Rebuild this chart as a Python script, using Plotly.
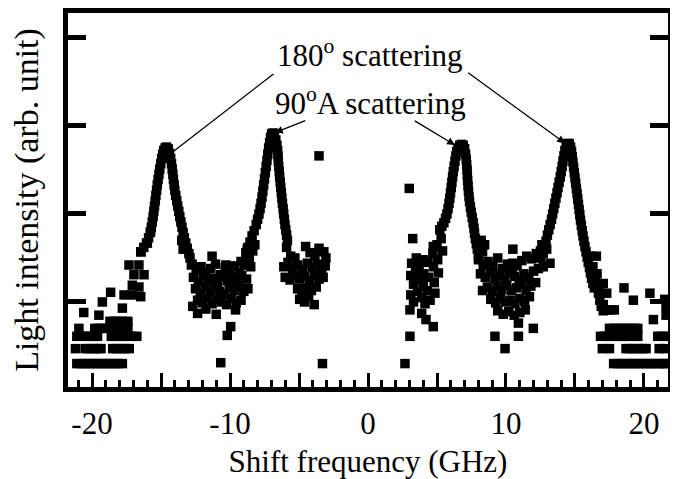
import plotly.graph_objects as go

# outer left tail: quantised low-count rows plus scattered points
tail_l_x = [-21.1, -20.8, -20.5, -20.2, -19.9, -19.6, -19.3, -19.0, -18.7, -18.4, -18.1, -17.8,
            -21.2, -20.5, -20.2, -19.9, -19.6, -19.35, -18.5, -18.2, -17.9, -17.6, -17.3,
            -21.1, -20.8, -20.5, -20.2, -19.9, -19.6, -18.6, -18.3, -18.0, -17.7, -17.4, -17.1, -16.75,
            -20.95, -19.8, -19.5, -19.2, -18.9, -18.6, -18.3, -18.0, -17.7, -17.4,
            -18.7, -18.4, -18.1, -17.8, -17.4,
            -20.6, -19.5, -17.8, -19.25, -18.65, -17.68, -17.08, -16.47, -17.08, -16.6,
            -16.96, -16.23, -17.32, -16.6, -16.47, -15.99, -15.75]
tail_l_y = [30] * 12 + [47] * 11 + [61] * 13 + [70] * 10 + [78] * 5 + \
           [88, 85, 93, 100, 111, 108, 108, 106, 119, 117,
            131, 131, 142, 142, 157, 167, 180]

# 180 deg peak, anti-Stokes side
peak1_x = [-16.45, -16.25, -16.05, -15.9, -15.78, -15.7, -15.63, -15.57, -15.52, -15.47, -15.42, -15.37,
           -15.32, -15.27, -15.21, -15.15, -15.09, -15.02, -14.95, -14.88, -14.8, -14.7, -14.6,
           -14.48, -14.38, -14.3, -14.24, -14.19, -14.14, -14.1, -14.05, -14.0, -13.93, -13.86, -13.79,
           -13.71, -13.64, -13.56, -13.48, -13.4, -13.31, -13.21, -13.1, -12.98,
           -13.5, -13.2, -12.9, -13.4, -12.75]
peak1_y = [157, 162, 167, 173, 179, 185, 191, 197, 203, 209, 215, 221,
           227, 233, 239, 245, 251, 257, 263, 268, 272, 275, 276,
           274, 269, 263, 257, 251, 245, 239, 233, 227, 221, 215, 209,
           203, 197, 191, 185, 179, 173, 167, 161, 155,
           170, 160, 150, 160, 143]

# background between the two left peaks
mid_l_x = [-12.8, -12.45, -12.1, -11.75, -11.4, -11.05, -10.7, -10.35, -10.0, -9.65, -9.3, -8.95, -8.65,
           -12.65, -12.3, -11.95, -11.6, -11.25, -10.9, -10.55, -10.2, -9.85, -9.5, -9.15, -8.8,
           -12.5, -12.15, -11.8, -11.45, -11.1, -10.75, -10.4, -10.05, -9.7, -9.35, -9.0, -8.7,
           -12.35, -12.0, -11.65, -11.3, -10.95, -10.6, -10.25, -9.9, -9.55, -9.2,
           -12.35, -11.75, -11.0, -9.6, -9.95, -10.2, -10.67, -11.3, -10.3, -9.2, -12.7,
           -8.6, -8.35, -8.2, -8.5, -8.75]
mid_l_y = [142, 136, 140, 133, 138, 143, 131, 139, 135, 141, 133, 142, 148,
           128, 122, 130, 125, 127, 121, 129, 124, 128, 122, 130, 126,
           115, 110, 117, 111, 116, 112, 109, 117, 113, 118, 112, 115,
           102, 99, 104, 98, 103, 100, 97, 104, 99, 102,
           87, 92, 86, 91, 72, 62, 31, 152, 142, 146, 95,
           150, 158, 165, 140, 160]

# 90A peak, anti-Stokes side
peak2_x = [-8.85, -8.7, -8.55, -8.4, -8.25, -8.1, -8.0, -7.9, -7.82, -7.75, -7.68, -7.62, -7.56, -7.5,
           -7.44, -7.38, -7.32, -7.26, -7.2, -7.13, -7.06, -6.98, -6.88,
           -6.78, -6.68, -6.6, -6.55, -6.52, -6.5, -6.47, -6.43, -6.4, -6.36, -6.32, -6.28, -6.24,
           -6.2, -6.15, -6.11, -6.06, -6.02, -5.96, -5.9, -5.84]
peak2_y = [156, 162, 168, 175, 181, 188, 194, 200, 206, 212, 219, 226, 233, 240,
           247, 254, 261, 268, 275, 281, 287, 291, 292,
           289, 284, 278, 272, 266, 260, 254, 248, 242, 236, 230, 224, 218,
           212, 206, 200, 194, 188, 182, 176, 170]

# points next to the blocked central region, negative side
inner_l_x = [-5.9, -5.6, -5.3, -4.52, -4.2, -3.85, -3.55, -3.2, -3.05,
             -6.1, -5.8, -5.45, -5.1, -4.75, -4.4, -4.05, -3.7, -3.35, -3.1,
             -6.0, -5.65, -5.3, -4.95, -4.6, -4.25, -3.9, -3.55, -3.25,
             -5.1, -4.8, -4.45, -4.1, -3.75,
             -4.95, -4.6, -4.3, -3.9,
             -3.55, -3.3]
inner_l_y = [162, 152, 150, 163, 156, 153, 161, 157, 150,
             140, 145, 138, 142, 137, 144, 139, 143, 138, 141,
             128, 125, 130, 126, 129, 124, 130, 126, 128,
             115, 112, 116, 113, 117,
             103, 100, 106, 97,
             266, 30]

# points next to the blocked central region, positive side
inner_r_x = [3.04, 3.1, 3.3, 3.1, 3.16, 3.5, 3.45, 3.7, 3.75, 3.6, 4.0, 4.05, 4.0, 3.9, 3.89, 4.13,
             4.35, 4.4, 4.3, 4.73, 4.5, 4.7, 4.75, 4.8, 4.85, 5.0, 5.05, 5.1, 5.3, 5.4, 4.73, 4.2, 3.3,
             2.99, 3.24, 3.04, 2.68]
inner_r_y = [91, 108, 120, 130, 144, 150, 135, 140, 125, 112, 148, 132, 118, 105, 87, 98,
             145, 128, 113, 72, 102, 155, 140, 122, 110, 165, 148, 133, 172, 158, 163, 80, 100,
             229, 172, 61, 30]

# 90A peak, Stokes side
peak3_x = [5.2, 5.35, 5.5, 5.62, 5.72, 5.8, 5.87, 5.93, 5.98, 6.03, 6.08, 6.13, 6.18, 6.24, 6.3,
           6.37, 6.44, 6.53, 6.65, 6.78, 6.9,
           7.0, 7.07, 7.12, 7.15, 7.18, 7.2, 7.22, 7.25, 7.28, 7.32, 7.36, 7.42, 7.48, 7.55, 7.62,
           7.68, 7.72, 7.78, 7.85, 7.92, 8.0, 8.2, 8.45, 8.3]
peak3_y = [182, 186, 190, 195, 200, 206, 212, 218, 224, 230, 236, 242, 248, 254, 260,
           266, 271, 275, 278, 279, 278,
           274, 268, 262, 256, 250, 244, 238, 232, 226, 220, 214, 208, 202, 196, 190,
           184, 178, 172, 166, 160, 154, 170, 165, 157]

# background between the two right peaks
mid_r_x = [8.0, 8.35, 8.7, 9.05, 9.4, 9.75, 10.1, 10.45, 10.8, 11.15, 11.5, 11.85, 12.2, 12.5,
           8.15, 8.5, 8.85, 9.2, 9.55, 9.9, 10.25, 10.6, 10.95, 11.3, 11.65, 12.0, 12.35, 12.7,
           8.3, 8.65, 9.0, 9.35, 9.7, 10.05, 10.4, 10.75, 11.1, 11.45, 11.8, 12.15,
           8.9, 9.25, 9.6, 9.95, 10.3, 10.65, 11.0, 11.35, 11.7,
           9.4, 9.8, 10.2, 10.6, 11.0, 11.4,
           9.2, 9.93, 10.9, 11.98, 10.9, 10.48, 13.19, 10.5]
mid_r_y = [148, 142, 146, 140, 150, 138, 143, 136, 141, 147, 152, 149, 155, 158,
           132, 128, 134, 127, 131, 126, 133, 129, 125, 132, 128, 135, 138, 140,
           113, 117, 112, 118, 114, 119, 113, 116, 120, 114, 118, 122,
           103, 99, 104, 100, 102, 98, 104, 101, 106,
           90, 86, 89, 85, 88, 91,
           61, 47, 61, 70, 76, 144, 144, 160]

# 180 deg peak, Stokes side
peak4_x = [12.7, 12.8, 12.9, 13.0, 13.1, 13.2, 13.3, 13.38, 13.46, 13.54, 13.62, 13.7, 13.77, 13.85,
           13.93, 14.0, 14.07, 14.13, 14.2, 14.27, 14.36, 14.47, 14.58, 12.5, 12.95, 12.6,
           14.68, 14.75, 14.8, 14.85, 14.9, 14.95, 15.0, 15.05, 15.1, 15.15, 15.2, 15.25, 15.3, 15.35,
           15.4, 15.46, 15.52, 15.58, 15.65, 15.72, 15.8, 15.88, 15.96, 16.05, 16.12, 16.2, 16.3, 16.4,
           16.1, 16.55, 16.3, 16.6, 16.45, 16.8, 17.05, 16.7, 17.3, 16.8, 17.05, 17.05, 17.3, 17.55,
           17.85, 16.9]
peak4_y = [155, 162, 169, 176, 182, 188, 194, 200, 206, 212, 218, 224, 230, 236,
           242, 248, 254, 260, 266, 272, 277, 280, 280, 150, 160, 165,
           276, 271, 265, 259, 253, 247, 241, 235, 229, 223, 217, 211, 205, 199,
           193, 187, 181, 175, 169, 163, 157, 151, 145, 139, 133, 127, 121, 116,
           152, 152, 140, 132, 125, 120, 121, 110, 110, 102, 97, 90, 91, 91,
           91, 95]

# outer right tail
tail_r_x = [17.5, 17.8, 18.1, 18.4, 18.7, 19.0, 19.3, 19.55,
            16.85, 17.15, 17.45, 17.75, 18.05, 18.35, 18.65, 18.95, 19.25, 19.55, 21.0, 21.3, 21.6,
            16.98, 17.5, 18.7, 19.0, 19.3, 19.6, 19.9, 20.15, 21.1, 21.5,
            17.8, 18.1, 18.4, 18.7, 19.0, 19.3, 19.6, 19.9, 20.2, 20.5, 20.8, 21.1, 21.4, 21.6,
            18.55, 19.23, 20.43, 20.68, 21.6, 21.6, 21.5]
tail_r_y = [70] * 8 + [61] * 13 + [47] * 10 + [30] * 14 + [116, 102, 110, 80, 95, 85, 103]

shift = (tail_l_x + peak1_x + mid_l_x + peak2_x + inner_l_x +
         inner_r_x + peak3_x + mid_r_x + peak4_x + tail_r_x)
intensity = (tail_l_y + peak1_y + mid_l_y + peak2_y + inner_l_y +
             inner_r_y + peak3_y + mid_r_y + peak4_y + tail_r_y)

x_ticks = [-20, -15, -10, -5, 0, 5, 10, 15, 20]
x_labels = ['-20', '', '-10', '', '0', '', '10', '', '20']
y_ticks = [0, 100, 200, 300, 400]

serif = 'Liberation Serif, Times New Roman, serif'

fig = go.Figure(go.Scatter(x=shift, y=intensity, mode='markers',
                           marker=dict(symbol='square', size=9.5, color='black', line_width=0),
                           hoverinfo='skip'))

arrow = dict(showarrow=True, axref='x', ayref='y', arrowcolor='black',
             arrowwidth=1.3, arrowsize=1.2, text='')
fig.add_annotation(x=-14.13, y=270.7, ax=-6.74, ay=360.4, arrowhead=0, **arrow)
fig.add_annotation(x=14.28, y=280.3, ax=7.15, ay=361.6, arrowhead=2, **arrow)
fig.add_annotation(x=-6.74, y=292.3, ax=-4.44, ay=306.7, arrowhead=2, **arrow)
fig.add_annotation(x=6.3, y=278.3, ax=3.28, ay=306.7, arrowhead=2, **arrow)
fig.add_annotation(x=0.14, y=382, text='180<sup>o</sup> scattering', showarrow=False,
                   font=dict(family=serif, size=31, color='black'))
fig.add_annotation(x=0.2, y=328, text='90<sup>o</sup>A scattering', showarrow=False,
                   font=dict(family=serif, size=31, color='black'))

# the page body adds an 8px margin, so the figure is 8px smaller than the window
fig.update_layout(
    width=670, height=471, autosize=False,
    margin=dict(l=60, r=10, t=5, b=92, autoexpand=False),
    plot_bgcolor='white', paper_bgcolor='white',
    showlegend=False,
    font=dict(family=serif, size=31, color='black'),
    xaxis=dict(range=[-21.74, 21.74], tickvals=x_ticks, ticktext=x_labels,
               ticks='inside', ticklen=14, tickwidth=3, tickcolor='black',
               minor=dict(dtick=1, ticks='inside', ticklen=7, tickwidth=3, tickcolor='black', showgrid=False),
               showline=True, linewidth=5, linecolor='black', mirror=True,
               showgrid=False, zeroline=False, automargin=False,
               ticklabelstandoff=5,
               tickfont=dict(family=serif, size=31, color='black'),
               title=dict(text='Shift frequency (GHz)', standoff=12,
                          font=dict(family=serif, size=31, color='black'))),
    yaxis=dict(range=[3.4, 428.3], tickvals=y_ticks, showticklabels=False,
               ticks='inside', ticklen=18, tickwidth=5, tickcolor='black',
               showline=True, linewidth=5, linecolor='black', mirror='ticks',
               showgrid=False, zeroline=False, automargin=False,
               title=dict(text='Light intensity (arb. unit)', standoff=20,
                          font=dict(family=serif, size=34, color='black'))),
)

fig.write_html('out.html')
